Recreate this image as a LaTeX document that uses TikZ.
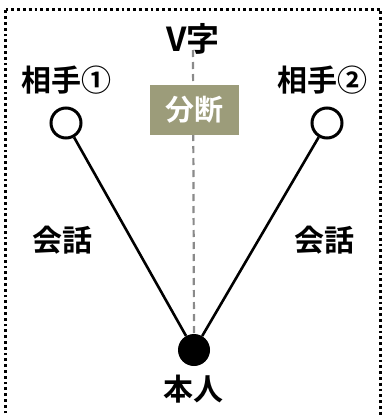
\documentclass[tikz,border=0pt]{standalone}
\usepackage{fontspec}
\setmainfont{Noto Sans CJK JP}[BoldFont={* Bold}]
\definecolor{olive}{HTML}{9C9C7A}
\definecolor{dashgray}{HTML}{8A8A8A}
\begin{document}
\begin{tikzpicture}[x=1pt,y=-1pt,
  lbl/.style={font=\fontsize{30}{32}\selectfont\bfseries, inner sep=0pt},
  person/.style={circle, draw=black, line width=3pt, minimum size=30pt, inner sep=0pt},
  self/.style={circle, fill=black, minimum size=32pt, inner sep=0pt},
  talk/.style={line width=2.6pt, black},
  cut/.style={dashgray, line width=2.2pt, dash pattern=on 7pt off 5pt}]
\useasboundingbox (0,0) rectangle (384,415);
\clip (0,0) rectangle (384,415);
\draw[line width=2.8pt, dash pattern=on 2.8pt off 3pt] (5.5,9.5) -- (380.5,9.5) -- (380.5,425) (5.5,425) -- (5.5,9.5);
\node[lbl, font=\fontsize{33}{35}\selectfont\bfseries] (title) at (193,39) {V字};
\node[self] (me) at (194,350) {};
\coordinate (cuttop) at (193,50);
\draw[cut] (cuttop) -- (me.north);
\node[fill=olive, minimum width=89pt, minimum height=50pt, inner sep=0pt, text=white, font=\fontsize{29}{31}\selectfont\bfseries] (split) at (194.5,110) {分断};
\node[lbl] (p1lbl) at (66,80) {相手①};
\node[lbl] (p2lbl) at (322,80) {相手②};
\node[person] (p1) at (66,123) {};
\node[person] (p2) at (327,123) {};
\draw[talk] (p1) -- (me);
\draw[talk] (p2) -- (me);
\node[lbl] (c1) at (62,240) {会話};
\node[lbl] (c2) at (324,240) {会話};
\node[lbl] (melbl) at (193,389) {本人};
\end{tikzpicture}
\end{document}
